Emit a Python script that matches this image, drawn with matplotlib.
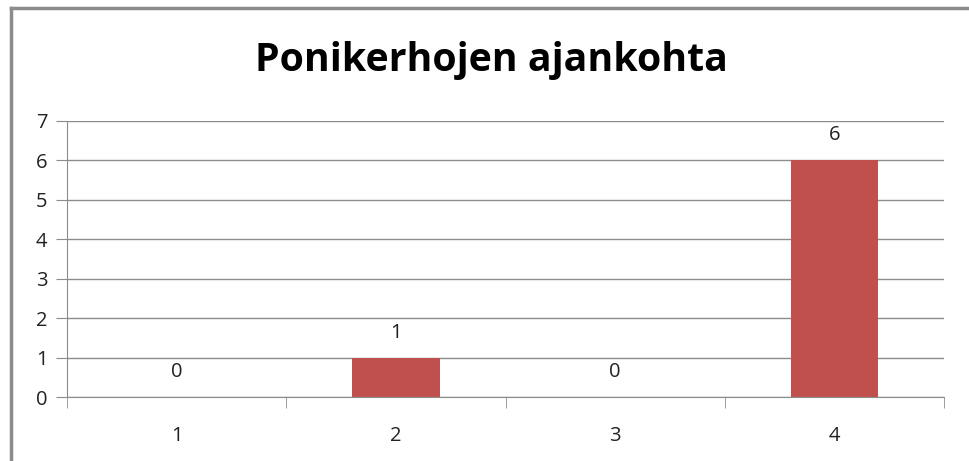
import matplotlib
matplotlib.use("Agg")
import matplotlib.pyplot as plt
from matplotlib.lines import Line2D
import numpy as np

categories = ["1", "2", "3", "4"]
values = [0, 1, 0, 6]
title = "Ponikerhojen ajankohta"

W, H = 969, 461
fig = plt.figure(figsize=(W / 100, H / 100), dpi=100)
fig.patch.set_facecolor("white")

# figure border (left and top)
fig.add_artist(Line2D([10.5 / W, 10.5 / W], [0, 1 - 8 / H], transform=fig.transFigure,
                      color="#8c8c8c", lw=2.5))
fig.add_artist(Line2D([10.5 / W, 1], [1 - 8.5 / H, 1 - 8.5 / H], transform=fig.transFigure,
                      color="#8c8c8c", lw=2.5))

ax = fig.add_axes([67 / W, 64 / H, (944 - 67) / W, (397 - 121) / H])
x = np.arange(len(categories))
bars = ax.bar(x, values, width=0.4, color="#C0504D", zorder=3)

ax.set_xlim(-0.5, len(categories) - 0.5)
ax.set_ylim(0, 7)
ax.set_yticks(range(0, 8))
ax.set_xticks(x)
ax.set_xticklabels(categories)
ax.set_xticks(np.arange(-0.5, len(categories), 1.0), minor=True)

gridc = "#8c8c8c"
ax.yaxis.grid(True, color=gridc, lw=1.0, zorder=0)
for s in ["top", "right"]:
    ax.spines[s].set_visible(False)
ax.spines["left"].set_color(gridc)
ax.spines["bottom"].set_color(gridc)
ax.spines["left"].set_zorder(4)
ax.spines["bottom"].set_zorder(4)

font = "Open Sans"
ax.tick_params(axis="y", which="major", length=8, color=gridc, labelsize=14.5, pad=6,
               labelcolor="#222222")
ax.tick_params(axis="x", which="major", length=0, labelsize=14.5, pad=21, labelcolor="#222222")
ax.tick_params(axis="x", which="minor", length=8, color=gridc)
for lab in ax.get_xticklabels() + ax.get_yticklabels():
    lab.set_fontfamily(font)

for xi, v in zip(x, values):
    ax.annotate(str(v), (xi, v), xytext=(0, 18), textcoords="offset points",
                ha="center", va="center", fontsize=14.5, family=font, color="#222222")

fig.text(491 / W, 1 - 61 / H, title, ha="center", va="center", fontsize=28.3,
         fontweight="bold", family=font, color="black")

fig.savefig("out.png", dpi=100, facecolor="white")
